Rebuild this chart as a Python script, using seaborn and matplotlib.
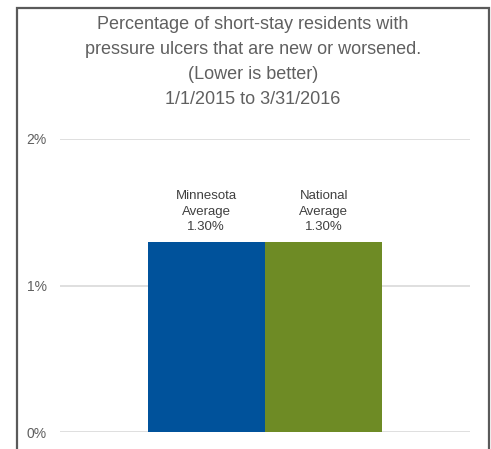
import matplotlib
matplotlib.use("Agg")
import matplotlib.pyplot as plt
import matplotlib.patches as mpatches
import seaborn as sns
import pandas as pd

# Data
regions = ["Minnesota\nAverage", "National\nAverage"]
values = [1.30, 1.30]
bar_colors = ["#00529B", "#6E8B25"]
ytick_values = [0, 1, 2]
ytick_labels = ["0%", "1%", "2%"]
title_lines = [
    "Percentage of short-stay residents with",
    "pressure ulcers that are new or worsened.",
    "(Lower is better)",
    "1/1/2015 to 3/31/2016",
]

sns.set_theme(style="white")
plt.rcParams["font.family"] = ["Liberation Sans", "DejaVu Sans"]

df = pd.DataFrame({"region": regions, "value": values})

fig = plt.figure(figsize=(4.91, 4.49), dpi=100)
ax = fig.add_axes([60 / 491, (449 - 432) / 449, 410 / 491, (432 - 139) / 449])

sns.barplot(data=df, x="region", y="value", hue="region", palette=bar_colors,
            width=1.0, legend=False, ax=ax, saturation=1, linewidth=0)

ax.set_xlim(-1.245, 2.245)
ax.set_ylim(0, 2)
ax.set_yticks(ytick_values)
ax.set_yticklabels(ytick_labels, color="#5F5F5F", fontsize=10)
ax.tick_params(axis="y", length=0, pad=9.5)
ax.set_xticks([])
ax.set_xlabel("")
ax.set_ylabel("")
ax.yaxis.grid(True, color="#D9D9D9", linewidth=1.2)
ax.set_axisbelow(True)
for s in ax.spines.values():
    s.set_visible(False)

# Value labels above bars
for i, (name, v) in enumerate(zip(regions, values)):
    ax.annotate(f"{name}\n{v:.2f}%", xy=(i, v), xytext=(0, 6),
                textcoords="offset points", ha="center", va="bottom",
                fontsize=9.5, color="#404040", linespacing=1.4)

# Title block
fig.text(253 / 491, 1 - 62 / 449, "\n".join(title_lines), ha="center", va="center",
         fontsize=13, color="#606060", linespacing=1.6)

# Outer frame
frame = mpatches.Rectangle((17 / 491, -0.05), (489 - 17) / 491, 1.05 - 8 / 449,
                           transform=fig.transFigure, fill=False,
                           edgecolor="#5A5A5A", linewidth=1.6)
fig.patches.append(frame)

fig.savefig("out.png", dpi=100)
